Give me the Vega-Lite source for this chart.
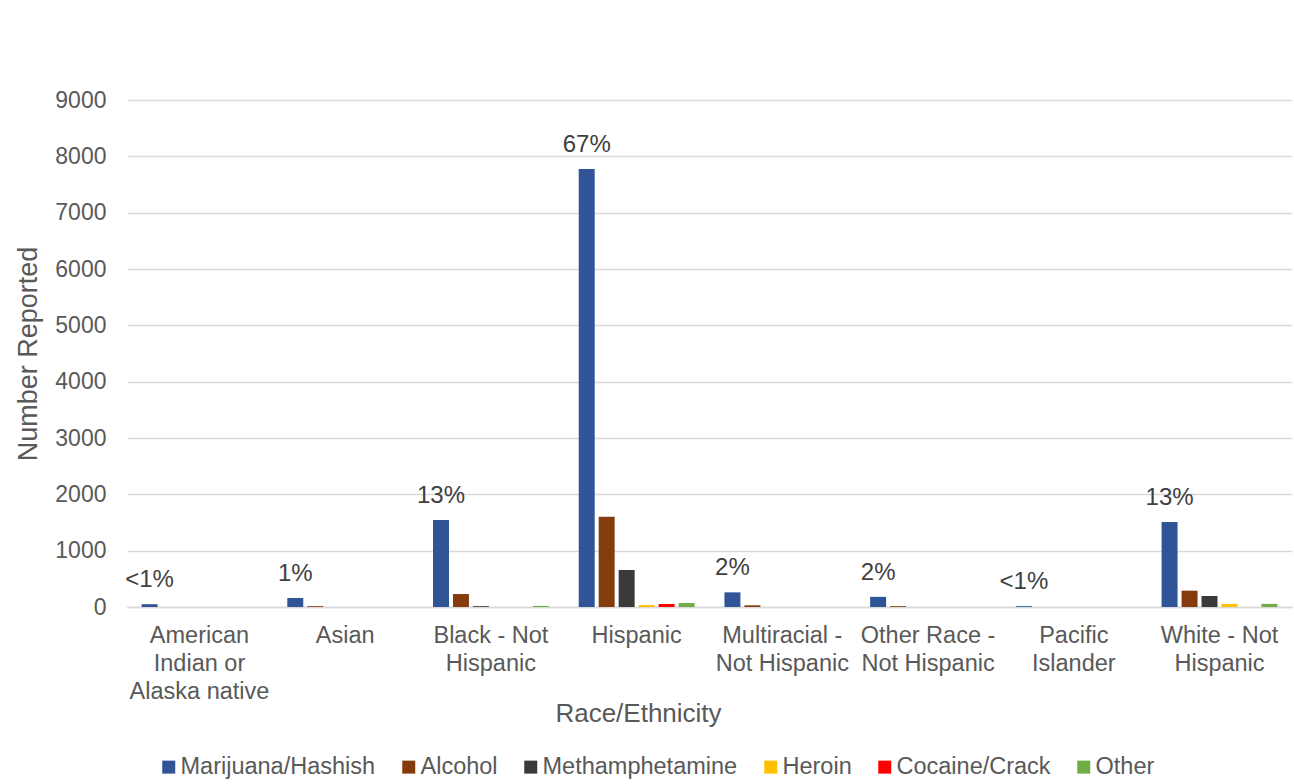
{
  "$schema": "https://vega.github.io/schema/vega-lite/v6.json",
  "autosize": {"type": "none"},
  "padding": {"left": 127, "top": 100, "right": 2, "bottom": 177},
  "width": 1165,
  "height": 507,
  "background": "white",
  "config": {
    "font": "Liberation Sans",
    "view": {"stroke": null},
    "axis": {"labelColor": "#595959", "titleColor": "#595959", "titleFontWeight": "normal"}
  },
  "data": {
    "values": [
      {"race": "American|Indian or|Alaska native", "drug": "Marijuana/Hashish", "value": 50, "label": "<1%"},
      {"race": "American|Indian or|Alaska native", "drug": "Alcohol", "value": 0},
      {"race": "American|Indian or|Alaska native", "drug": "Methamphetamine", "value": 0},
      {"race": "American|Indian or|Alaska native", "drug": "Heroin", "value": 0},
      {"race": "American|Indian or|Alaska native", "drug": "Cocaine/Crack", "value": 0},
      {"race": "American|Indian or|Alaska native", "drug": "Other", "value": 0},
      {"race": "Asian", "drug": "Marijuana/Hashish", "value": 160, "label": "1%"},
      {"race": "Asian", "drug": "Alcohol", "value": 15},
      {"race": "Asian", "drug": "Methamphetamine", "value": 0},
      {"race": "Asian", "drug": "Heroin", "value": 0},
      {"race": "Asian", "drug": "Cocaine/Crack", "value": 0},
      {"race": "Asian", "drug": "Other", "value": 0},
      {"race": "Black - Not|Hispanic", "drug": "Marijuana/Hashish", "value": 1545, "label": "13%"},
      {"race": "Black - Not|Hispanic", "drug": "Alcohol", "value": 230},
      {"race": "Black - Not|Hispanic", "drug": "Methamphetamine", "value": 15},
      {"race": "Black - Not|Hispanic", "drug": "Heroin", "value": 0},
      {"race": "Black - Not|Hispanic", "drug": "Cocaine/Crack", "value": 0},
      {"race": "Black - Not|Hispanic", "drug": "Other", "value": 20},
      {"race": "Hispanic", "drug": "Marijuana/Hashish", "value": 7775, "label": "67%"},
      {"race": "Hispanic", "drug": "Alcohol", "value": 1600},
      {"race": "Hispanic", "drug": "Methamphetamine", "value": 657},
      {"race": "Hispanic", "drug": "Heroin", "value": 35},
      {"race": "Hispanic", "drug": "Cocaine/Crack", "value": 53},
      {"race": "Hispanic", "drug": "Other", "value": 70},
      {"race": "Multiracial -|Not Hispanic", "drug": "Marijuana/Hashish", "value": 260, "label": "2%"},
      {"race": "Multiracial -|Not Hispanic", "drug": "Alcohol", "value": 30},
      {"race": "Multiracial -|Not Hispanic", "drug": "Methamphetamine", "value": 0},
      {"race": "Multiracial -|Not Hispanic", "drug": "Heroin", "value": 0},
      {"race": "Multiracial -|Not Hispanic", "drug": "Cocaine/Crack", "value": 0},
      {"race": "Multiracial -|Not Hispanic", "drug": "Other", "value": 0},
      {"race": "Other Race -|Not Hispanic", "drug": "Marijuana/Hashish", "value": 180, "label": "2%"},
      {"race": "Other Race -|Not Hispanic", "drug": "Alcohol", "value": 15},
      {"race": "Other Race -|Not Hispanic", "drug": "Methamphetamine", "value": 0},
      {"race": "Other Race -|Not Hispanic", "drug": "Heroin", "value": 0},
      {"race": "Other Race -|Not Hispanic", "drug": "Cocaine/Crack", "value": 0},
      {"race": "Other Race -|Not Hispanic", "drug": "Other", "value": 0},
      {"race": "Pacific|Islander", "drug": "Marijuana/Hashish", "value": 15, "label": "<1%"},
      {"race": "Pacific|Islander", "drug": "Alcohol", "value": 0},
      {"race": "Pacific|Islander", "drug": "Methamphetamine", "value": 0},
      {"race": "Pacific|Islander", "drug": "Heroin", "value": 0},
      {"race": "Pacific|Islander", "drug": "Cocaine/Crack", "value": 0},
      {"race": "Pacific|Islander", "drug": "Other", "value": 0},
      {"race": "White - Not|Hispanic", "drug": "Marijuana/Hashish", "value": 1510, "label": "13%"},
      {"race": "White - Not|Hispanic", "drug": "Alcohol", "value": 290},
      {"race": "White - Not|Hispanic", "drug": "Methamphetamine", "value": 195},
      {"race": "White - Not|Hispanic", "drug": "Heroin", "value": 55},
      {"race": "White - Not|Hispanic", "drug": "Cocaine/Crack", "value": 0},
      {"race": "White - Not|Hispanic", "drug": "Other", "value": 55}
    ]
  },
  "encoding": {
    "x": {
      "field": "race", "type": "nominal", "sort": null,
      "scale": {"paddingInner": 0.205, "paddingOuter": 0.1},
      "axis": {
        "title": "Race/Ethnicity", "titleFontSize": 26, "titlePadding": -2, "titleX": 511,
        "labelExpr": "split(datum.label, '|')", "labelAngle": 0, "labelFontSize": 23.5,
        "labelLineHeight": 28, "labelPadding": 16, "ticks": false,
        "domainColor": "#D9D9D9", "domainWidth": 1.5, "labelLimit": 200
      }
    },
    "xOffset": {
      "field": "drug", "type": "nominal", "sort": null,
      "scale": {"paddingInner": 0.2, "paddingOuter": 0}
    },
    "y": {
      "field": "value", "type": "quantitative",
      "scale": {"domain": [0, 9000], "nice": false},
      "axis": {
        "title": "Number  Reported", "titleFontSize": 27, "titlePadding": 12,
        "labelFontSize": 23, "labelPadding": 21, "format": "d",
        "values": [0, 1000, 2000, 3000, 4000, 5000, 6000, 7000, 8000, 9000],
        "ticks": false, "domain": false, "gridColor": "#D9D9D9", "gridWidth": 1.5
      }
    }
  },
  "layer": [
    {
      "mark": {"type": "bar"},
      "encoding": {
        "color": {
          "field": "drug", "type": "nominal", "sort": null,
          "scale": {
            "domain": ["Marijuana/Hashish", "Alcohol", "Methamphetamine", "Heroin", "Cocaine/Crack", "Other"],
            "range": ["#2F5597", "#843C0C", "#3A3A3A", "#FFC000", "#FF0000", "#70AD47"]
          },
          "legend": {
            "title": null, "orient": "none", "direction": "horizontal",
            "legendX": 30, "legendY": 655, "columns": 6,
            "symbolType": "square", "symbolSize": 169, "symbolStrokeWidth": 0,
            "labelFontSize": 23.5, "labelColor": "#595959", "labelOffset": 0,
            "columnPadding": 21, "labelLimit": 300
          }
        }
      }
    },
    {
      "transform": [{"filter": "datum.label != null"}],
      "mark": {"type": "text", "baseline": "alphabetic", "dy": -17, "fontSize": 24, "color": "#404040"},
      "encoding": {"text": {"field": "label"}}
    }
  ]
}
